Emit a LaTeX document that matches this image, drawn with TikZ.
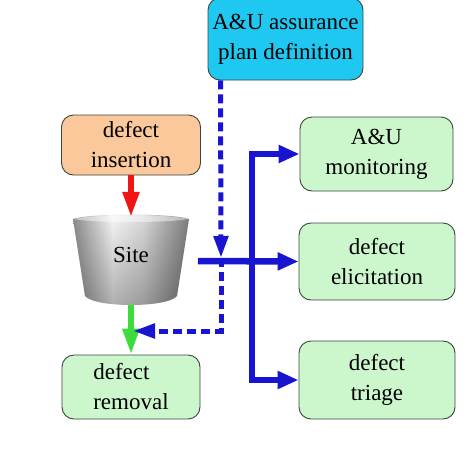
\documentclass[tikz,border=0pt]{standalone}
\usepackage{fontspec}
\setmainfont{Liberation Serif}
\usetikzlibrary{arrows.meta,fadings}
\definecolor{cyanbox}{RGB}{30,200,240}
\definecolor{peach}{RGB}{250,200,155}
\definecolor{mint}{RGB}{204,246,204}
\definecolor{lineblue}{RGB}{25,20,210}
\definecolor{arrred}{RGB}{240,20,20}
\definecolor{arrgreen}{RGB}{60,220,60}
\definecolor{boxedge}{RGB}{60,70,60}
\pgfdeclarehorizontalshading{bucketshade}{100bp}{rgb(0bp)=(0.56,0.56,0.56); rgb(25bp)=(0.56,0.56,0.56); rgb(42bp)=(0.97,0.97,0.97); rgb(55bp)=(0.86,0.86,0.86); rgb(75bp)=(0.5,0.5,0.5); rgb(100bp)=(0.5,0.5,0.5)}
\begin{document}
\begin{tikzpicture}[x=1pt,y=-1pt,
  box/.style={draw=boxedge, line width=0.9pt, rounded corners=12pt, align=center,
    inner sep=0pt, font=\fontsize{23}{30}\selectfont},
  bl/.style={draw=lineblue, line width=6.5pt},
  bltip/.style={-{Triangle[length=21pt,width=17pt]}},
  dashblue/.style={draw=lineblue, line width=5pt, dash pattern=on 9pt off 5pt},
  dashtip/.style={-{Triangle[length=22pt,width=14pt]}},
  redarrow/.style={draw=arrred, line width=5.5pt, -{Triangle[length=25pt,width=16pt]}},
  greenarrow/.style={draw=arrgreen, line width=6pt, -{Triangle[length=26pt,width=16pt]}}
]
\useasboundingbox (0,0) rectangle (474,467);
\fill[white] (0,0) rectangle (474,467);

% bucket (Site)
\shade[shading=bucketshade] (73,219) -- (85,296) .. controls (95,308) and (167,308) .. (177,296) -- (189,219) .. controls (170,213) and (92,213) .. (73,219) -- cycle;
\fill[black, opacity=0.3, path fading=north] (73,219) -- (85,296) .. controls (95,308) and (167,308) .. (177,296) -- (189,219) .. controls (170,213) and (92,213) .. (73,219) -- cycle;
\fill[white, opacity=0.45] (74,219) .. controls (92,214) and (170,214) .. (188,219) .. controls (170,223) and (92,223) .. (74,219) -- cycle;

\node[box, fill=cyanbox, minimum width=155pt, minimum height=82pt] (plan) at (285.5,39) {A\&U assurance\\plan definition};
\node[box, fill=peach, minimum width=139pt, minimum height=60pt] (ins) at (131,145) {defect\\insertion};
\node[inner sep=0pt, minimum width=116pt, minimum height=88pt, text height=16pt, text depth=14pt,
  font=\fontsize{23}{30}\selectfont] (site) at (131,261) {Site};
\node[box, fill=mint, align=left, minimum width=138pt, minimum height=64pt] (rem) at (131,387) {defect\\removal};
\node[box, fill=mint, minimum width=153pt, minimum height=74pt] (mon) at (376.5,154) {A\&U\\monitoring};
\node[box, fill=mint, minimum width=156pt, minimum height=77pt] (eli) at (377,261.5) {defect\\elicitation};
\node[box, fill=mint, minimum width=156pt, minimum height=78pt] (tri) at (377,380) {defect\\triage};

\coordinate (spine) at (252,261);
\coordinate (sout) at (198,261);
\coordinate (dmid) at (221,258);
\coordinate (dcorner) at (221,331);
\coordinate (gmid) at (133,331);

% site flows
\draw[redarrow] (ins.south) -- (site.north);
\draw[greenarrow] (site.south) -- (rem.north);

% solid blue distribution
\draw[bl, {Triangle[length=21pt,width=17pt]}-{Triangle[length=21pt,width=17pt]}] (mon.west) -| (spine) |- (tri.west);
\draw[bl, bltip] (sout) -- (eli.west);

% dashed blue
\draw[dashblue, dashtip] ([xshift=13pt]plan.south west) -- (dmid);
\draw[dashblue, dashtip] (dmid) -- (dcorner) -- (gmid);
\end{tikzpicture}
\end{document}
